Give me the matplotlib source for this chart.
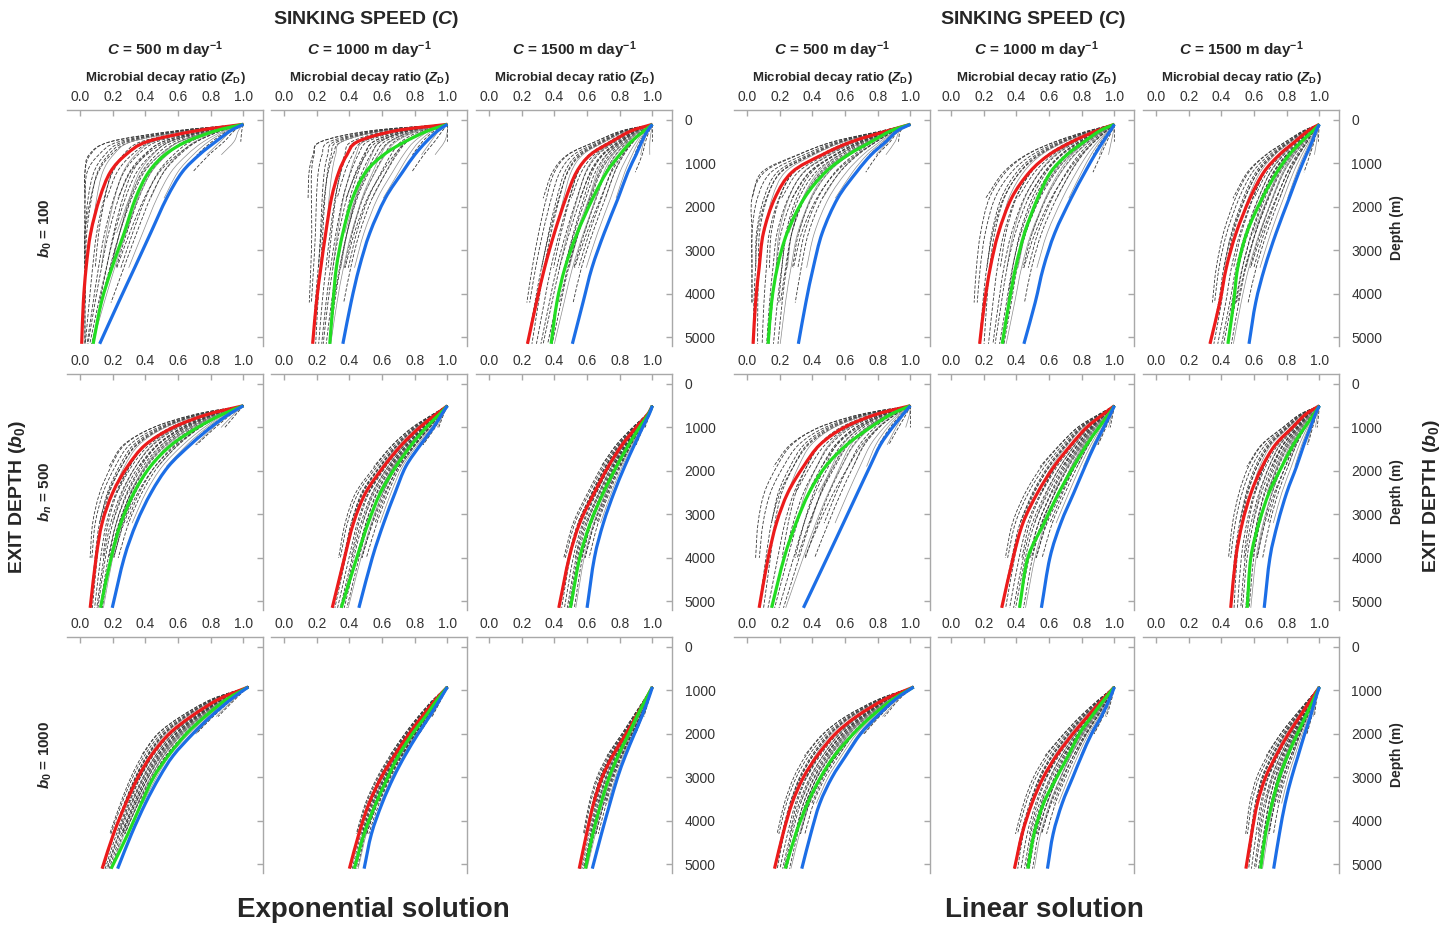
import numpy as np
import matplotlib
matplotlib.use("Agg")
import matplotlib.pyplot as plt
from matplotlib.path import Path
from matplotlib.patches import PathPatch

# depth grids (m) for the three exit depths
depth_b100 = [100, 250, 500, 800, 1200, 1800, 2600, 3400, 4200, 5150]
depth_b500 = [500, 700, 1000, 1400, 1900, 2500, 3200, 4000, 5150]
depth_b1000 = [920, 1200, 1600, 2000, 2500, 3000, 3600, 4300, 5100]

speeds = [500, 1000, 1500]
exit_depths = [100, 500, 1000]

# Exponential solution, one list per sinking speed (500, 1000, 1500)
exp_b100_red = [[1.0, 0.71, 0.41, 0.28, 0.185, 0.12, 0.065, 0.037, 0.02, 0.01],
                [1.0, 0.68, 0.45, 0.385, 0.335, 0.29, 0.255, 0.225, 0.198, 0.175],
                [1.0, 0.87, 0.75, 0.62, 0.535, 0.47, 0.40, 0.34, 0.29, 0.235]]
exp_b100_green = [[1.0, 0.83, 0.65, 0.52, 0.42, 0.34, 0.27, 0.195, 0.13, 0.08],
                  [1.0, 0.88, 0.74, 0.61, 0.50, 0.42, 0.36, 0.32, 0.30, 0.28],
                  [1.0, 0.95, 0.87, 0.80, 0.72, 0.635, 0.54, 0.465, 0.415, 0.38]]
exp_b100_blue = [[1.0, 0.92, 0.83, 0.73, 0.625, 0.53, 0.432, 0.334, 0.235, 0.12],
                 [1.0, 0.94, 0.87, 0.80, 0.725, 0.62, 0.525, 0.46, 0.41, 0.36],
                 [1.0, 0.97, 0.935, 0.90, 0.85, 0.79, 0.705, 0.63, 0.575, 0.51]]

exp_b500_red = [[1.0, 0.78, 0.57, 0.40, 0.29, 0.20, 0.135, 0.098, 0.062],
                [1.0, 0.93, 0.83, 0.72, 0.61, 0.50, 0.425, 0.37, 0.295],
                [1.0, 0.97, 0.90, 0.815, 0.73, 0.645, 0.555, 0.49, 0.427]]
exp_b500_green = [[1.0, 0.87, 0.72, 0.56, 0.43, 0.33, 0.25, 0.19, 0.125],
                  [1.0, 0.95, 0.87, 0.78, 0.685, 0.59, 0.515, 0.445, 0.35],
                  [1.0, 0.975, 0.92, 0.855, 0.78, 0.70, 0.62, 0.555, 0.498]]
exp_b500_blue = [[1.0, 0.91, 0.80, 0.675, 0.54, 0.435, 0.345, 0.27, 0.197],
                 [1.0, 0.965, 0.915, 0.835, 0.745, 0.68, 0.61, 0.54, 0.458],
                 [1.0, 0.98, 0.94, 0.89, 0.83, 0.765, 0.70, 0.645, 0.60]]

exp_b1000_red = [[1.03, 0.85, 0.68, 0.545, 0.435, 0.355, 0.28, 0.205, 0.135],
                 [1.0, 0.93, 0.845, 0.765, 0.675, 0.595, 0.52, 0.458, 0.40],
                 [1.0, 0.96, 0.90, 0.838, 0.757, 0.692, 0.64, 0.597, 0.552]]
exp_b1000_green = [[1.03, 0.90, 0.765, 0.65, 0.54, 0.45, 0.375, 0.293, 0.19],
                   [1.0, 0.94, 0.865, 0.785, 0.70, 0.635, 0.562, 0.49, 0.43],
                   [1.0, 0.96, 0.905, 0.855, 0.79, 0.735, 0.685, 0.635, 0.59]]
exp_b1000_blue = [[1.03, 0.925, 0.80, 0.69, 0.57, 0.485, 0.40, 0.315, 0.23],
                  [1.0, 0.955, 0.89, 0.82, 0.74, 0.67, 0.60, 0.535, 0.49],
                  [1.0, 0.975, 0.935, 0.89, 0.835, 0.787, 0.74, 0.688, 0.632]]

# Linear solution
lin_b100_red = [[1.0, 0.86, 0.64, 0.46, 0.275, 0.17, 0.10, 0.074, 0.052, 0.037],
                [1.0, 0.89, 0.74, 0.60, 0.48, 0.37, 0.29, 0.24, 0.205, 0.175],
                [1.0, 0.93, 0.85, 0.755, 0.66, 0.575, 0.49, 0.43, 0.39, 0.33]]
lin_b100_green = [[1.0, 0.88, 0.76, 0.62, 0.48, 0.35, 0.245, 0.185, 0.15, 0.129],
                  [1.0, 0.91, 0.815, 0.71, 0.61, 0.53, 0.45, 0.395, 0.355, 0.313],
                  [1.0, 0.96, 0.89, 0.815, 0.74, 0.65, 0.555, 0.50, 0.475, 0.44]]
lin_b100_blue = [[1.0, 0.92, 0.85, 0.76, 0.67, 0.555, 0.46, 0.405, 0.36, 0.314],
                 [1.0, 0.975, 0.93, 0.88, 0.82, 0.735, 0.635, 0.565, 0.515, 0.446],
                 [1.0, 0.98, 0.955, 0.92, 0.875, 0.815, 0.735, 0.665, 0.61, 0.569]]

lin_b500_red = [[1.0, 0.79, 0.595, 0.445, 0.345, 0.25, 0.18, 0.129, 0.074],
                [1.0, 0.93, 0.83, 0.735, 0.63, 0.53, 0.44, 0.38, 0.31],
                [1.0, 0.915, 0.835, 0.73, 0.65, 0.582, 0.528, 0.488, 0.457]]
lin_b500_green = [[1.0, 0.88, 0.755, 0.61, 0.48, 0.38, 0.30, 0.227, 0.15],
                  [1.0, 0.965, 0.905, 0.83, 0.75, 0.66, 0.57, 0.47, 0.419],
                  [1.0, 0.965, 0.91, 0.84, 0.77, 0.692, 0.63, 0.58, 0.558]]
lin_b500_blue = [[1.0, 0.955, 0.89, 0.816, 0.752, 0.677, 0.59, 0.49, 0.345],
                 [1.0, 0.975, 0.935, 0.88, 0.82, 0.752, 0.672, 0.605, 0.553],
                 [1.0, 0.975, 0.945, 0.905, 0.86, 0.80, 0.745, 0.697, 0.662]]

lin_b1000_red = [[1.02, 0.845, 0.67, 0.54, 0.43, 0.345, 0.275, 0.22, 0.168],
                 [1.0, 0.93, 0.835, 0.745, 0.645, 0.565, 0.495, 0.435, 0.388],
                 [1.0, 0.95, 0.88, 0.81, 0.735, 0.67, 0.62, 0.585, 0.55]]
lin_b1000_green = [[1.02, 0.895, 0.76, 0.65, 0.535, 0.45, 0.37, 0.298, 0.234],
                   [1.0, 0.94, 0.86, 0.785, 0.718, 0.647, 0.566, 0.508, 0.47],
                   [1.0, 0.965, 0.915, 0.865, 0.805, 0.755, 0.71, 0.67, 0.64]]
lin_b1000_blue = [[1.02, 0.91, 0.795, 0.695, 0.605, 0.52, 0.445, 0.39, 0.335],
                  [1.0, 0.97, 0.92, 0.86, 0.80, 0.745, 0.68, 0.625, 0.59],
                  [1.0, 0.975, 0.945, 0.91, 0.87, 0.83, 0.79, 0.755, 0.72]]

# grey ensemble members: position between red (0) and blue (1) at top / bottom,
# fraction of the depth range drawn, dashed or not
gray_w_top = [-0.5, -0.4, -0.3, -0.2, -0.1, 0.0, 0.1, 0.15, 0.2, 0.25, 0.3, 0.35,
              0.4, 0.45, 0.5, 0.55, 0.6, 0.65, 0.7, 0.8, 0.9, 1.0, 1.1, 1.2,
              -0.6, -0.35, 0.05, 0.3, 0.5, 0.75, 1.3, 0.85, -0.65, -0.45]
gray_w_bot = [-0.1, 0.1, 0.0, 0.3, 0.2, 0.4, 0.3, 0.5, 0.35, 0.6, 0.45, 0.55,
              0.7, 0.5, 0.65, 0.6, 0.75, 0.85, 0.8, 0.9, 1.1, 1.3, 1.2, 1.5,
              -0.3, 0.2, 0.15, 0.25, 0.4, 0.6, 1.6, 1.05, -0.15, 0.05]
gray_stop = [0.9, 0.95, 1.0, 0.85, 1.0, 0.75, 0.95, 0.9, 1.0, 0.8, 0.95, 1.0,
             0.7, 0.9, 0.85, 1.0, 0.8, 0.6, 0.9, 0.75, 0.45, 0.4, 0.5, 0.35,
             0.55, 0.7, 0.65, 0.6, 0.7, 0.85, 0.25, 0.6, 0.9, 0.8]
gray_dashed = [1, 1, 1, 1, 1, 0, 1, 1, 1, 0, 1, 1, 0, 1, 1, 0, 1, 0, 1, 0,
               1, 0, 1, 0, 1, 0, 1, 1, 0, 1, 1, 0, 1, 1]

W, H = 1455, 927
plt.rcParams['font.family'] = 'Liberation Sans'
plt.rcParams['mathtext.fontset'] = 'custom'
plt.rcParams['mathtext.rm'] = 'Liberation Sans:bold'
plt.rcParams['mathtext.bf'] = 'Liberation Sans:bold'
plt.rcParams['mathtext.it'] = 'Liberation Sans:italic:bold'

RED, GREEN, BLUE = '#ec1b1b', '#22dd22', '#1c6ee6'
SPINE = '#a8a8a8'
TXT = '#262626'

fig = plt.figure(figsize=(W / 100, H / 100), dpi=100)


def axes_at(x, y, w, h):
    return fig.add_axes([x / W, 1 - (y + h) / H, w / W, h / H])


def put(x, y, s, **kw):
    fig.text(x / W, 1 - y / H, s, ha='center', va='center', color=TXT, **kw)


def smooth(ax, x, y, **kw):
    # Bezier curve through the read points (Catmull-Rom control points)
    pts = np.column_stack([x, y])
    p = np.vstack([2 * pts[0] - pts[1], pts, 2 * pts[-1] - pts[-2]])
    verts = [pts[0]]
    codes = [Path.MOVETO]
    for k in range(1, len(p) - 2):
        c1 = p[k] + (p[k + 1] - p[k - 1]) / 6
        c2 = p[k + 1] - (p[k + 2] - p[k]) / 6
        verts += [c1, c2, p[k + 1]]
        codes += [Path.CURVE4] * 3
    ax.add_patch(PathPatch(Path(verts, codes), fill=False, **kw))


col_left = [[67, 271, 476], [734, 938, 1143]]
row_top = [110, 374, 637]
pw, ph = 196, 236

grids = [depth_b100, depth_b500, depth_b1000]
sets = [
    [(exp_b100_red, exp_b100_green, exp_b100_blue),
     (exp_b500_red, exp_b500_green, exp_b500_blue),
     (exp_b1000_red, exp_b1000_green, exp_b1000_blue)],
    [(lin_b100_red, lin_b100_green, lin_b100_blue),
     (lin_b500_red, lin_b500_green, lin_b500_blue),
     (lin_b1000_red, lin_b1000_green, lin_b1000_blue)],
]
xt = [0.0, 0.2, 0.4, 0.6, 0.8, 1.0]
yt = [0, 1000, 2000, 3000, 4000, 5000]

for g in range(2):
    for i in range(3):
        d = np.array(grids[i], dtype=float)
        n = len(d)
        s = np.linspace(0, 1, n)
        reds, greens, blues = sets[g][i]
        for j in range(3):
            ax = axes_at(col_left[g][j], row_top[i], pw, ph)
            r = np.array(reds[j])
            gr = np.array(greens[j])
            bl = np.array(blues[j])
            for wt, wb, stop, dash in zip(gray_w_top, gray_w_bot, gray_stop, gray_dashed):
                w = wt + (wb - wt) * s
                z = np.clip(r + w * (bl - r), 0.03, r[0])
                k = max(3, int(round(stop * n)))
                if dash:
                    smooth(ax, z[:k], d[:k], edgecolor='#3a3a3a', lw=0.6, ls=(0, (4, 2)))
                else:
                    smooth(ax, z[:k], d[:k], edgecolor='#8c8c8c', lw=0.5)
            for vals, col in ((r, RED), (gr, GREEN), (bl, BLUE)):
                smooth(ax, vals, d, edgecolor=col, lw=2.3, capstyle='butt')

            ax.set_xlim(-0.08, 1.12)
            ax.set_ylim(5200, -230)
            for sp in ['left', 'bottom']:
                ax.spines[sp].set_visible(False)
            for sp in ['top', 'right']:
                ax.spines[sp].set_color(SPINE)
                ax.spines[sp].set_linewidth(1.0)
            ax.xaxis.tick_top()
            ax.set_xticks(xt)
            ax.set_xticklabels(['%.1f' % v for v in xt])
            ax.yaxis.tick_right()
            ax.set_yticks(yt)
            ax.set_yticklabels([str(v) for v in yt])
            ax.tick_params(axis='x', direction='in', length=4, width=1, color=SPINE,
                           labelcolor='#333333', labelsize=10, pad=4.5)
            ax.tick_params(axis='y', direction='in', length=4, width=1, color=SPINE,
                           labelcolor='#333333', labelsize=10, pad=9,
                           labelright=(j == 2))
            cx = col_left[g][j] + pw / 2
            if i == 0:
                put(cx, 78, r'Microbial decay ratio ($Z_\mathrm{D}$)',
                    fontsize=9.5, fontweight='bold')
                put(cx, 50, r'$C$ = %d m day$^{-1}$' % speeds[j],
                    fontsize=11, fontweight='bold')

# headers and side labels
put(366, 19, r'SINKING SPEED ($C$)', fontsize=14, fontweight='bold')
put(1033, 19, r'SINKING SPEED ($C$)', fontsize=14, fontweight='bold')
put(373, 910, 'Exponential solution', fontsize=20, fontweight='bold')
put(1044, 910, 'Linear solution', fontsize=20, fontweight='bold')

put(18, 497, r'EXIT DEPTH ($b_0$)', fontsize=14, fontweight='bold', rotation=90)
put(1431, 496, r'EXIT DEPTH ($b_0$)', fontsize=14, fontweight='bold', rotation=90)

row_names = [r'$b_0$ = 100', r'$b_n$ = 500', r'$b_0$ = 1000']
row_mid = [228, 492, 755]
for name, y in zip(row_names, row_mid):
    put(45, y, name, fontsize=11, fontweight='bold', rotation=90)
    put(1397, y, 'Depth (m)', fontsize=10, fontweight='bold', rotation=90)

fig.savefig('out.png', dpi=100, facecolor='white')
